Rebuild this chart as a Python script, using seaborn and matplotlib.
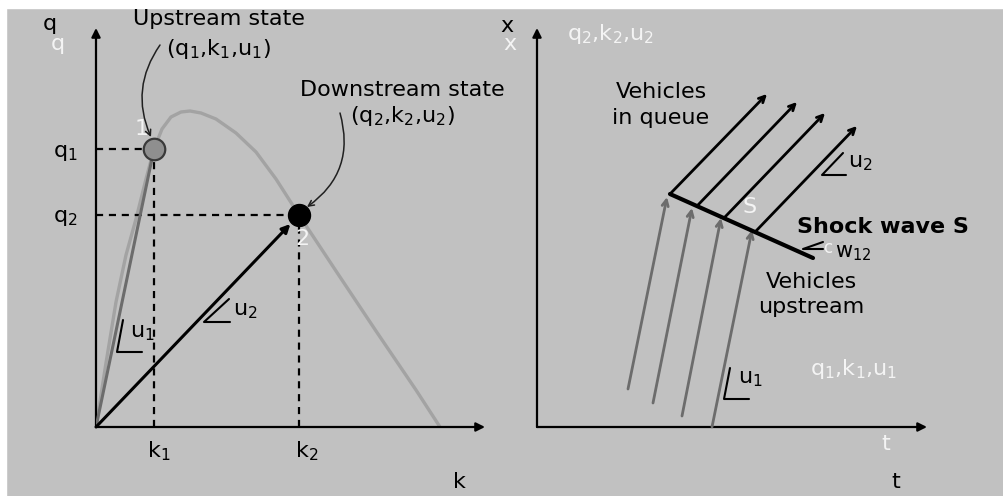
import matplotlib
matplotlib.use("Agg")
import matplotlib.pyplot as plt
from matplotlib.patches import Rectangle
import seaborn as sns

sns.set_style("white")
plt.rcParams['font.family'] = ['DejaVu Sans']
plt.rcParams['mathtext.fontset'] = 'dejavusans'

# ---------------- data (left: fundamental diagram, units = k, q) ----------------
k_curve = [0, 10, 20, 30, 40, 50, 58, 66, 75, 85, 94, 105, 120, 140, 160, 180, 203, 240, 280, 320, 344]
q_curve = [0, 64, 125, 172, 208, 248, 278, 298, 310, 315, 316, 314, 308, 294, 275, 248, 212, 156, 96, 37, 0]
k_states = [58, 203]          # k1, k2
q_states = [278, 212]         # q1, q2
state_names = ["1", "2"]
k_axis_max, q_axis_max = 389, 399

# ---------------- data (right: time-space diagram, units = t, x) ----------------
up_t0 = [91, 116, 145, 175]
up_x0 = [38, 24, 11, 0]
up_t1 = [130, 155, 184, 215]
up_x1 = [230, 219, 209, 197]
queue_t0 = [133, 160, 187, 219]
queue_x0 = [233, 221, 209, 196]
queue_t1 = [230, 260, 288, 320]
queue_x1 = [333, 325, 314, 301]
shock_t = [133, 276]
shock_x = [233, 169]
t_axis_max, x_axis_max = 390, 399

BG = '#c1c1c1'
CURVE = '#a3a3a3'
MID = '#6c6c6c'
WHITE = '#f4f4f4'
FS = 16

fig = plt.figure(figsize=(10.04, 4.96), dpi=100, facecolor=BG)
W, H = 1004, 496
fig.add_artist(Rectangle((0, 1 - 8 / H), 1, 8 / H, transform=fig.transFigure, color='white', zorder=0))
fig.add_artist(Rectangle((0, 0), 6 / W, 1, transform=fig.transFigure, color='white', zorder=0))

axL = fig.add_axes([96 / W, (H - 427) / H, 404 / W, 407 / H])
axR = fig.add_axes([537 / W, (H - 427) / H, 440 / W, 407 / H])
for ax, xm, ym in [(axL, 404, 407), (axR, 440, 407)]:
    ax.set_xlim(0, xm)
    ax.set_ylim(0, ym)
    ax.set_facecolor('none')
    ax.axis('off')

def axis_arrows(ax, xmax, ymax):
    ap = dict(arrowstyle='-|>', mutation_scale=13, lw=1.6, color='black', shrinkA=0, shrinkB=0)
    ax.annotate('', xy=(xmax, 0), xytext=(0, 0), arrowprops=ap, annotation_clip=False)
    ax.annotate('', xy=(0, ymax), xytext=(0, 0), arrowprops=ap, annotation_clip=False)

def txt(ax, x, y, s, color='black', ha='center', size=FS, **kw):
    ax.text(x, y, s, color=color, ha=ha, va='baseline', fontsize=size, **kw)

# ================= LEFT PANEL =================
axis_arrows(axL, k_axis_max, q_axis_max)
sns.lineplot(x=k_curve, y=q_curve, sort=False, ax=axL, color=CURVE, lw=2.4, zorder=2)

k1, k2 = k_states
q1, q2 = q_states
dash = dict(color='black', lw=1.6, linestyle=(0, (3.2, 2.6)), zorder=3)
axL.plot([0, k1], [q1, q1], **dash)
axL.plot([k1, k1], [0, q1], **dash)
axL.plot([0, k2], [q2, q2], **dash)
axL.plot([k2, k2], [0, q2], **dash)

# chords
axL.plot([0, k1], [0, q1], color=MID, lw=2.2, zorder=4)
axL.annotate('', xy=(k2, q2), xytext=(0, 0),
             arrowprops=dict(arrowstyle='-|>', mutation_scale=12, lw=2.2, color='black',
                             shrinkA=0, shrinkB=9), zorder=4)

sns.scatterplot(x=[k1], y=[q1], ax=axL, s=240, color='#8f8f8f', edgecolor='#3a3a3a', linewidth=1.6, zorder=6)
sns.scatterplot(x=[k2], y=[q2], ax=axL, s=250, color='black', edgecolor='black', linewidth=1, zorder=6)

txt(axL, -46, 397, 'q')
txt(axL, -38, 377, 'q', color=WHITE)
txt(axL, -43, 270, r'$\mathregular{q_1}$', ha='left')
txt(axL, -43, 205, r'$\mathregular{q_2}$', ha='left')
txt(axL, 51, -30, r'$\mathregular{k_1}$', ha='left')
txt(axL, 199, -30, r'$\mathregular{k_2}$', ha='left')
txt(axL, 357, -61, 'k', ha='left')
txt(axL, 123, 402, 'Upstream state')
txt(axL, 122, 372, r'$\mathregular{(q_1{,}k_1{,}u_1)}$')
txt(axL, 306, 331, 'Downstream state')
txt(axL, 306, 305, r'$\mathregular{(q_2{,}k_2{,}u_2)}$')
txt(axL, k1 - 12, q1 + 14, state_names[0], color=WHITE)
txt(axL, k2 + 3, q2 - 30, state_names[1], color=WHITE)

axL.annotate('', xy=(k1 - 3, q1 + 12), xytext=(64, 382), annotation_clip=False,
             arrowprops=dict(arrowstyle='->', lw=1.1, color='#202020',
                             connectionstyle='arc3,rad=0.28', shrinkA=0, shrinkB=0))
axL.annotate('', xy=(k2 + 8, q2 + 8), xytext=(244, 314), annotation_clip=False,
             arrowprops=dict(arrowstyle='->', lw=1.1, color='#202020',
                             connectionstyle='arc3,rad=-0.35', shrinkA=0, shrinkB=0))

mk = dict(color='black', lw=1.5, zorder=5)
axL.plot([27, 21, 46], [107, 75, 75], **mk)
txt(axL, 34, 90, r'$\mathregular{u_1}$', ha='left')
axL.plot([133, 108, 134], [128, 105, 105], **mk)
txt(axL, 137, 112, r'$\mathregular{u_2}$', ha='left')

# ================= RIGHT PANEL =================
axis_arrows(axR, t_axis_max, x_axis_max)
for a, b, c, d in zip(up_t0, up_x0, up_t1, up_x1):
    axR.annotate('', xy=(c, d), xytext=(a, b),
                 arrowprops=dict(arrowstyle='->', mutation_scale=11, lw=2.0, color=MID,
                                 shrinkA=0, shrinkB=0))
for a, b, c, d in zip(queue_t0, queue_x0, queue_t1, queue_x1):
    axR.annotate('', xy=(c, d), xytext=(a, b),
                 arrowprops=dict(arrowstyle='->', mutation_scale=11, lw=2.0, color='black',
                                 shrinkA=0, shrinkB=0))
sns.lineplot(x=shock_t, y=shock_x, ax=axR, color='black', lw=3.0, zorder=5)

txt(axR, -30, 395, 'x')
txt(axR, -27, 377, 'x', color=WHITE)
txt(axR, 30, 387, r'$\mathregular{q_2{,}k_2{,}u_2}$', color=WHITE, ha='left')
txt(axR, 124, 329, 'Vehicles')
txt(axR, 124, 303, 'in queue')
txt(axR, 260, 194, 'Shock wave S', ha='left', fontweight='bold')
txt(axR, 213, 214, 'S', color=WHITE)
txt(axR, 291, 174, 'c', color=WHITE, size=12)
txt(axR, 298, 170, r'$\mathregular{w_{12}}$', ha='left', size=15)
txt(axR, 274, 139, 'Vehicles')
txt(axR, 274, 114, 'upstream')
txt(axR, 273, 52, r'$\mathregular{q_1{,}k_1{,}u_1}$', color=WHITE, ha='left')
txt(axR, 349, -23, 't', color=WHITE)
txt(axR, 359, -61, 't')

axR.plot([306, 285, 309], [274, 252, 252], **mk)
txt(axR, 311, 260, r'$\mathregular{u_2}$', ha='left')
axR.plot([193, 187, 212], [59, 28, 28], **mk)
txt(axR, 201, 44, r'$\mathregular{u_1}$', ha='left')
axR.plot([286, 266, 286], [185, 178, 178], **mk)

fig.savefig('out.png', dpi=100, facecolor=fig.get_facecolor())
